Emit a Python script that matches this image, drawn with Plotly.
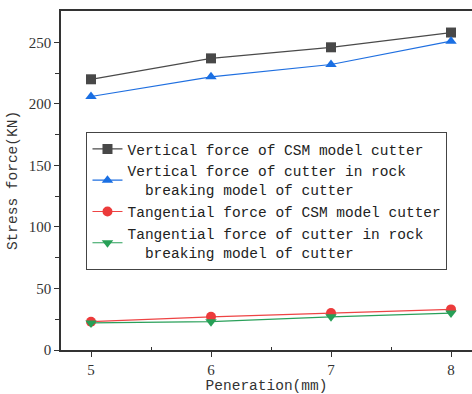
import plotly.graph_objects as go

penetration = [5, 6, 7, 8]
vert_csm = [220, 237, 246, 258]
vert_rock = [206, 222, 232, 251]
tang_csm = [23, 27, 30, 33]
tang_rock = [22, 23, 27, 30]

names = [
    "Vertical force of CSM model cutter",
    "Vertical force of cutter in rock<br>\u00a0\u00a0breaking model of cutter",
    "Tangential force of CSM model cutter",
    "Tangential force of cutter in rock<br>\u00a0\u00a0breaking model of cutter",
]
series = [vert_csm, vert_rock, tang_csm, tang_rock]
line_colors = ["#4a4a4a", "#1f6fe0", "#ee4444", "#2aa05a"]
marker_colors = ["#484848", "#1a6fe3", "#ec3b3b", "#27a057"]
symbols = ["square", "triangle-up", "circle", "triangle-down"]

fig = go.Figure()
for y, nm, lc, mc, sy in zip(series, names, line_colors, marker_colors, symbols):
    fig.add_trace(go.Scatter(
        x=penetration, y=y, name=nm, mode="lines+markers",
        line=dict(color=lc, width=1.2),
        marker=dict(symbol=sy, size=10, color=mc),
    ))

fig.update_layout(
    width=472, height=394,
    margin=dict(l=61, r=0, t=11, b=44),
    paper_bgcolor="white", plot_bgcolor="white",
    font=dict(family="Liberation Mono", size=14.5, color="#222"),
    showlegend=True,
    legend=dict(
        x=0.062, y=0.643, xanchor="left", yanchor="top",
        bordercolor="#444", borderwidth=1, bgcolor="white",
        font=dict(family="Liberation Mono", size=14.5, color="#222"),
        tracegroupgap=0, itemsizing="trace",
    ),
    xaxis=dict(
        range=[4.75, 8.175], tickvals=penetration, ticktext=[str(v) for v in penetration],
        showgrid=False, zeroline=False, showline=True, linecolor="#333", linewidth=1.5,
        mirror=True, ticks="outside", ticklen=5, tickcolor="#333",
        tickfont=dict(family="Liberation Serif", size=15, color="#333"),
        minor=dict(tickvals=[5.5, 6.5, 7.5], ticks="inside", ticklen=3, tickcolor="#333"),
        title=dict(text="Peneration(mm)", standoff=6,
                   font=dict(family="Liberation Mono", size=14.5, color="#333")),
    ),
    yaxis=dict(
        range=[0, 275.5], tickvals=[0, 50, 100, 150, 200, 250],
        showgrid=False, zeroline=False, showline=True, linecolor="#333", linewidth=1.5,
        ticks="outside", ticklen=5, tickcolor="#333",
        tickfont=dict(family="Liberation Serif", size=15, color="#333"),
        minor=dict(tickvals=[25, 75, 125, 175, 225], ticks="outside", ticklen=4, tickcolor="#333"),
        title=dict(text="Stress force(KN)", standoff=8,
                   font=dict(family="Liberation Mono", size=14.5, color="#333")),
    ),
)

fig.write_html("out.html")
